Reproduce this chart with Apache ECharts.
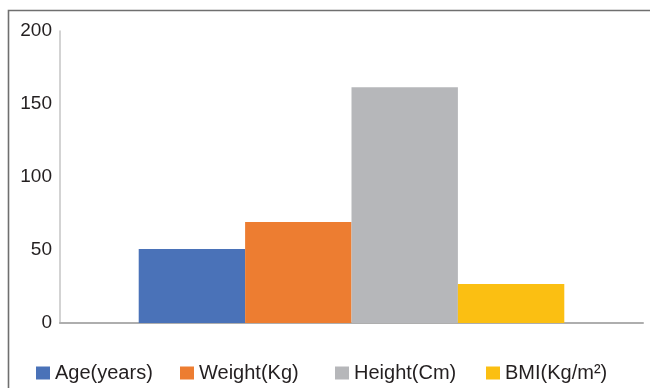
<!DOCTYPE html>
<html>
<head>
<meta charset="utf-8">
<script src="https://cdn.jsdelivr.net/npm/echarts@6/dist/echarts.min.js"></script>
<style>
html,body{margin:0;padding:0;background:#fff;}
#chart{width:650px;height:388px;}
</style>
</head>
<body>
<div id="chart"></div>
<script>
var categories = [''];
var seriesNames = ['Age(years)', 'Weight(Kg)', 'Height(Cm)', 'BMI(Kg/m²)'];
var seriesValues = [50.7, 69.2, 161.5, 26.7];
var seriesColors = ['#4a72b8', '#ed7d31', '#b6b7ba', '#fbbf12'];
var yTicks = [0, 50, 100, 150, 200];

var chart = echarts.init(document.getElementById('chart'), null, {renderer: 'canvas'});
var legendLefts = [36, 180, 335, 486];
var font = 'Liberation Sans, Arial, sans-serif';

var series = seriesNames.map(function (n, i) {
  var d = categories.map(function () { return seriesValues[i]; });
  return {
    name: n, type: 'bar', data: d,
    barGap: '0%', barCategoryGap: '27%',
    itemStyle: {color: seriesColors[i]},
    emphasis: {disabled: true}
  };
});

var legends = seriesNames.map(function (n, i) {
  return {
    data: [n], left: legendLefts[i], top: 363, padding: 0,
    itemWidth: 14, itemHeight: 13, icon: 'rect',
    textStyle: {fontFamily: font, fontSize: 20, color: '#231f20'},
    selectedMode: false
  };
});

chart.setOption({
  animation: false,
  backgroundColor: '#fff',
  graphic: [{
    type: 'rect',
    shape: {x: 8.5, y: 10.5, width: 700, height: 420},
    style: {fill: 'none', stroke: '#6f6f6f', lineWidth: 1.6},
    silent: true
  }],
  grid: {left: 60, right: 7, top: 31, bottom: 65, containLabel: false},
  legend: legends,
  xAxis: {
    type: 'category', data: categories,
    axisLine: {lineStyle: {color: '#aeaeae', width: 2}},
    axisTick: {show: false}, axisLabel: {show: false}
  },
  yAxis: {
    type: 'value', min: yTicks[0], max: yTicks[yTicks.length - 1], interval: 50,
    axisLine: {show: true, lineStyle: {color: '#c4c4c4', width: 1.5}},
    axisTick: {show: false},
    splitLine: {show: false},
    axisLabel: {margin: 8, fontFamily: font, fontSize: 19, color: '#231f20'}
  },
  series: series
});
</script>
</body>
</html>
